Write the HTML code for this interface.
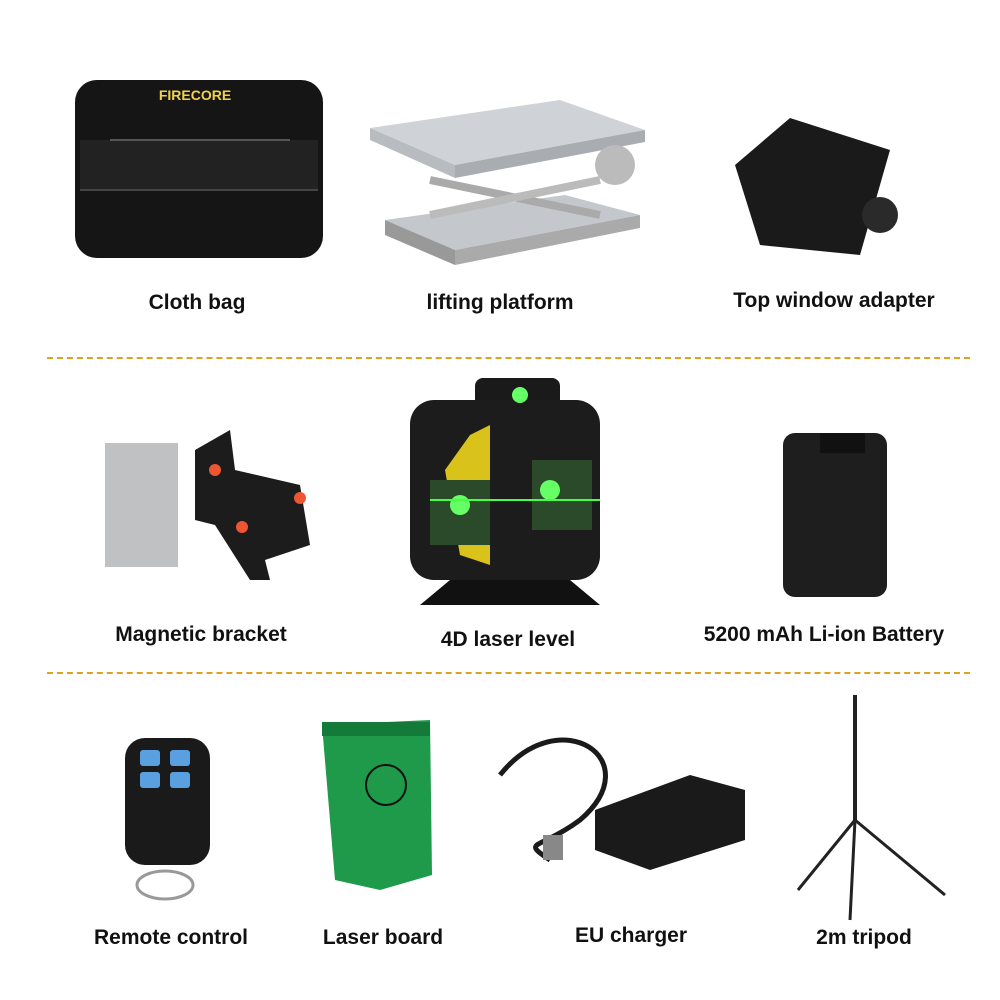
<!DOCTYPE html>
<html><head><meta charset="utf-8"><style>
body{margin:0;background:#fff;}
#c{position:relative;width:1000px;height:1000px;overflow:hidden;font-family:"Liberation Sans",sans-serif;}
.l{position:absolute;font-weight:bold;font-size:21px;color:#111;transform:translateX(-50%);white-space:nowrap;}
.d{position:absolute;left:47px;width:923px;border-top:2px dashed #e0a020;}
.a{position:absolute;}
</style></head><body><div id="c">
<svg class="a" style="left:0;top:0" width="1000" height="1000">
<!-- bag -->
<rect x="75" y="80" width="248" height="178" rx="22" fill="#151515"/>
<rect x="80" y="140" width="238" height="50" fill="#222"/>
<line x1="80" y1="190" x2="318" y2="190" stroke="#444" stroke-width="2"/>
<line x1="110" y1="140" x2="290" y2="140" stroke="#555" stroke-width="2"/>
<text x="195" y="100" font-family="Liberation Sans" font-weight="bold" font-size="14" fill="#f2d24a" text-anchor="middle">FIRECORE</text>
<!-- platform -->
<polygon points="370,128 560,100 645,130 455,165" fill="#cfd2d6"/>
<polygon points="455,165 645,130 645,142 455,178" fill="#a9adb2"/>
<polygon points="370,128 455,165 455,178 370,140" fill="#b8bcc0"/>
<polygon points="385,220 455,250 640,215 565,195" fill="#c4c7cb"/>
<polygon points="385,220 455,250 455,265 385,235" fill="#999"/>
<polygon points="455,250 640,215 640,228 455,265" fill="#aaa"/>
<line x1="430" y1="180" x2="600" y2="215" stroke="#aaa" stroke-width="8"/>
<line x1="430" y1="215" x2="600" y2="180" stroke="#bbb" stroke-width="8"/>
<circle cx="615" cy="165" r="20" fill="#bbb"/>
<!-- adapter -->
<polygon points="735,165 790,118 890,150 860,255 760,245" fill="#1a1a1a"/>
<circle cx="880" cy="215" r="18" fill="#2a2a2a"/>
<!-- row 2 -->
<rect x="105" y="443" width="73" height="124" fill="#bfc1c3"/>
<polygon points="195,450 230,430 235,470 300,485 310,545 265,560 270,580 250,580 215,525 195,520" fill="#1c1c1c"/>
<circle cx="215" cy="470" r="6" fill="#e53"/><circle cx="300" cy="498" r="6" fill="#e53"/><circle cx="242" cy="527" r="6" fill="#e53"/>
<rect x="475" y="378" width="85" height="30" rx="8" fill="#1a1a1a"/>
<rect x="410" y="400" width="190" height="180" rx="24" fill="#1c1c1c"/>
<polygon points="445,470 470,435 490,425 490,565 460,555" fill="#d9c21a"/>
<rect x="532" y="460" width="60" height="70" fill="#2a4a2a"/>
<rect x="430" y="480" width="60" height="65" fill="#2a4a2a"/>
<polygon points="420,605 450,580 570,580 600,605" fill="#111"/>
<circle cx="550" cy="490" r="10" fill="#6f6"/><circle cx="460" cy="505" r="10" fill="#6f6"/><circle cx="520" cy="395" r="8" fill="#6f6"/>
<line x1="430" y1="500" x2="600" y2="500" stroke="#4f4" stroke-width="2"/>
<rect x="783" y="433" width="104" height="164" rx="12" fill="#1e1e1e"/>
<rect x="820" y="433" width="45" height="20" fill="#111"/>
<!-- row 3 -->
<rect x="125" y="738" width="85" height="127" rx="20" fill="#1a1a1a"/>
<rect x="140" y="750" width="20" height="16" rx="3" fill="#5aa0e0"/><rect x="170" y="750" width="20" height="16" rx="3" fill="#5aa0e0"/>
<rect x="140" y="772" width="20" height="16" rx="3" fill="#5aa0e0"/><rect x="170" y="772" width="20" height="16" rx="3" fill="#5aa0e0"/>
<ellipse cx="165" cy="885" rx="28" ry="14" fill="none" stroke="#999" stroke-width="3"/>
<polygon points="322,725 430,720 432,875 380,890 335,880" fill="#1e9a4a"/>
<rect x="322" y="722" width="108" height="14" fill="#137a38"/>
<circle cx="386" cy="785" r="20" fill="none" stroke="#111" stroke-width="2"/>
<path d="M500,775 C560,700 650,760 580,820 C540,850 520,840 550,860" fill="none" stroke="#1a1a1a" stroke-width="5"/>
<rect x="543" y="835" width="20" height="25" fill="#888"/>
<polygon points="595,810 690,775 745,790 745,840 650,870 595,850" fill="#1a1a1a"/>
<line x1="855" y1="695" x2="855" y2="820" stroke="#222" stroke-width="4"/>
<line x1="855" y1="820" x2="798" y2="890" stroke="#222" stroke-width="3"/>
<line x1="855" y1="820" x2="945" y2="895" stroke="#222" stroke-width="3"/>
<line x1="855" y1="820" x2="850" y2="920" stroke="#222" stroke-width="3"/>
</svg>
<div class="l" style="left:197px;top:291px">Cloth bag</div>
<div class="l" style="left:500px;top:291px">lifting platform</div>
<div class="l" style="left:834px;top:289px">Top window adapter</div>
<div class="d" style="top:357px"></div>
<div class="l" style="left:201px;top:623px">Magnetic bracket</div>
<div class="l" style="left:508px;top:628px">4D laser level</div>
<div class="l" style="left:824px;top:623px">5200 mAh Li-ion Battery</div>
<div class="d" style="top:672px"></div>
<div class="l" style="left:171px;top:926px">Remote control</div>
<div class="l" style="left:383px;top:926px">Laser board</div>
<div class="l" style="left:631px;top:924px">EU charger</div>
<div class="l" style="left:864px;top:926px">2m tripod</div>
</div></body></html>
